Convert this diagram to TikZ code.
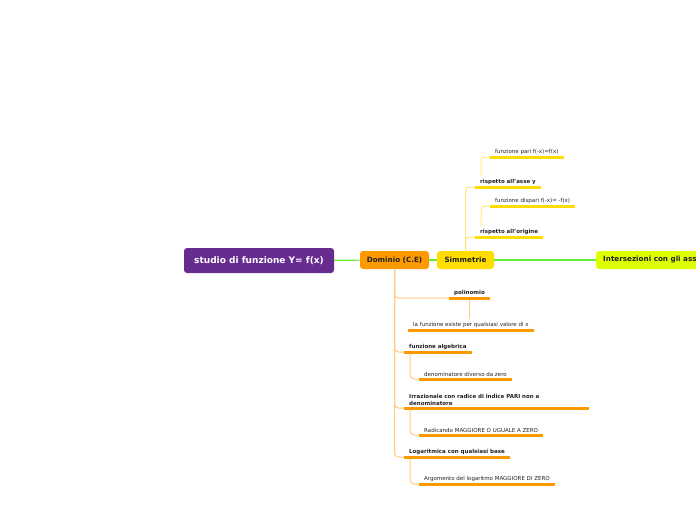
\documentclass[tikz,border=0pt]{standalone}
\usepackage{fontspec}
\setmainfont{DejaVu Sans}
\definecolor{rootpurple}{HTML}{682C91}
\definecolor{domorange}{HTML}{FF9900}
\definecolor{simyellow}{HTML}{FFDD00}
\definecolor{intlime}{HTML}{DDFF00}
\definecolor{mapgreen}{HTML}{66EE33}
\definecolor{lightorange}{HTML}{FFCC80}
\definecolor{lightyellow}{HTML}{FFE680}
\definecolor{textdark}{HTML}{222222}
\begin{document}
\begin{tikzpicture}[x=1pt,y=-1pt]
			\tikzset{rootbox/.style = {fill=rootpurple, text=white, rounded corners=3pt, font=\bfseries\fontsize{9}{10}\selectfont, minimum width=150pt, minimum height=25pt, inner sep=0pt}}
			\tikzset{topic/.style = {rounded corners=3pt, text=textdark, font=\bfseries\fontsize{7.2}{8}\selectfont, minimum height=18pt, inner sep=0pt}}
			\tikzset{subb/.style = {anchor=south west, inner xsep=5pt, inner ysep=2.5pt, text=textdark, font=\bfseries\fontsize{5.5}{7}\selectfont}}
			\tikzset{subn/.style = {anchor=south west, inner xsep=5pt, inner ysep=2.5pt, text=textdark, font=\fontsize{5.5}{7}\selectfont}}
			\tikzset{mainline/.style = {mapgreen, line width=1.2pt}}
			\tikzset{ulorange/.style = {domorange, line width=3pt}}
			\tikzset{ulyellow/.style = {simyellow, line width=3pt}}
			\tikzset{lnorange/.style = {lightorange, line width=1pt, rounded corners=4pt}}
			\tikzset{lnyellow/.style = {lightyellow, line width=1pt, rounded corners=4pt}}
			\useasboundingbox (0,0) rectangle (696,520);
			\clip (0,0) rectangle (696,520);
			% Main topics
			\node[rootbox] (root) at (259,260.5) {studio di funzione Y= f(x)};
			\node[topic, fill=domorange, minimum width=69pt] (dom) at (394.5,260) {Dominio (C.E)};
			\node[topic, fill=simyellow, minimum width=57pt] (sim) at (465.5,260) {Simmetrie};
			\node[topic, fill=intlime, anchor=west, inner xsep=7pt] (inters) at (596,260) {Intersezioni con gli assi};
			\draw[mainline] (root) -- (dom);
			\draw[mainline] (dom) -- (sim);
			\draw[mainline] (sim) -- (inters);
			% Simmetrie
			\node[subb] (asse) at (475,187) {rispetto all'asse y};
			\node[subb] (orig) at (475,237) {rispetto all'origine};
			\node[subn] (pari) at (490,157) {funzione pari f(-x)=f(x)};
			\node[subn] (dispari) at (490,206) {funzione dispari f(-x)= -f(x)};
			\draw[lnyellow] (sim.north) |- (asse.south west);
			\draw[lnyellow] (sim.north) |- (orig.south west);
			\draw[lnyellow] ([xshift=6pt]asse.north west) |- (pari.south west);
			\draw[lnyellow] ([xshift=6pt]orig.north west) |- (dispari.south west);
			\foreach \n in {asse,orig,pari,dispari}
				\draw[ulyellow] (\n.south west) -- (\n.south east);
			% Dominio
			\node[subb] (poli) at (449,298) {polinomio};
			\node[subn] (ovunque) at (408,330) {la funzione esiste per qualsiasi valore di x};
			\node[subb] (alg) at (404,352) {funzione algebrica};
			\node[subn] (denom) at (419,379) {denominatore diverso da zero};
			\node[subb, align=left, text width=175pt] (irraz) at (404,408) {Irrazionale con radice di indice PARI non a\\denominatore};
			\node[subn] (radic) at (419,435) {Radicando MAGGIORE O UGUALE A ZERO};
			\node[subb] (loga) at (404,457) {Logaritmica con qualsiasi base};
			\node[subn] (argom) at (419,484) {Argomento del logaritmo MAGGIORE DI ZERO};
			\draw[lnorange] (dom.south) |- (poli.south west);
			\draw[lnorange] (dom.south) |- (alg.south west);
			\draw[lnorange] (dom.south) |- (irraz.south west);
			\draw[lnorange] (dom.south) |- (loga.south west);
			\draw[lnorange] (poli.south) -- (poli.south |- ovunque.north);
			\draw[lnorange] ([xshift=6pt]alg.south west) |- (denom.south west);
			\draw[lnorange] ([xshift=6pt]irraz.south west) |- (radic.south west);
			\draw[lnorange] ([xshift=6pt]loga.south west) |- (argom.south west);
			\foreach \n in {poli,ovunque,alg,denom,irraz,radic,loga,argom}
				\draw[ulorange] (\n.south west) -- (\n.south east);
		\end{tikzpicture}
\end{document}
